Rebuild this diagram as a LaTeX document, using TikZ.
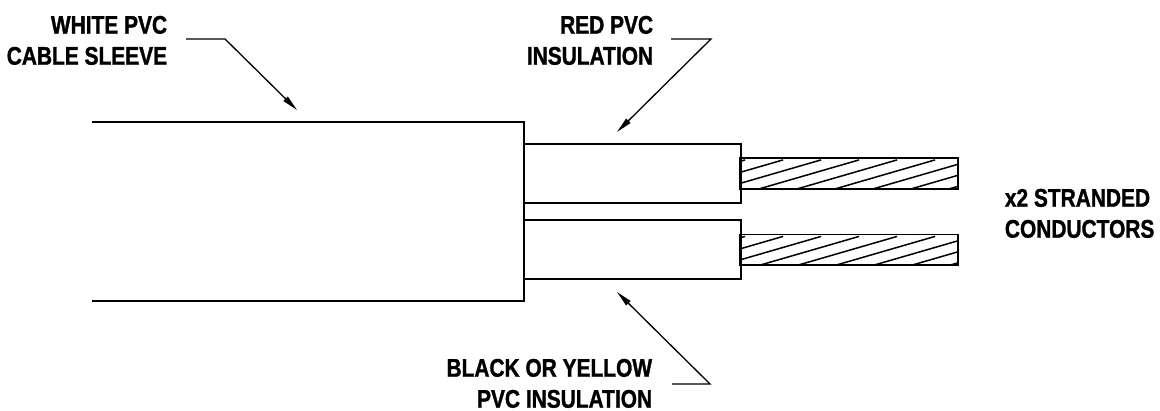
\documentclass[tikz,border=0pt]{standalone}
\usepackage{fontspec}
\setmainfont{Liberation Sans}[FakeStretch=0.82,FakeBold=1.2]
\usepackage{tikz}
\usetikzlibrary{arrows.meta,calc}

\begin{document}
\begin{tikzpicture}[x=1pt,y=-1pt,line width=1.8pt,
	label/.style={inner sep=0pt,font=\bfseries\fontsize{25.5}{31}\selectfont},
	leader/.style={line width=1.3pt,-{Triangle[length=16pt,width=6pt]}},
	insul/.style={draw,rectangle,minimum width=217pt,minimum height=59pt,inner sep=0pt},
	cond/.style={rectangle,minimum width=216pt,minimum height=29pt,inner sep=0pt},
	strand/.style={line width=1.5pt}]
	 \useasboundingbox (0,0) rectangle (1160,411);

	 % sleeve, open at the left
	 \draw (92,122) -- (524,122) -- (524,301) -- (92,301);

	 \node at (632.5,173.5) [insul] (ins1) {};
	 \node at (632.5,249.5) [insul] (ins2) {};
	 \node at (849,173.5) [cond] (cond1) {};
	 \node at (849,250) [cond] (cond2) {};

	 % strands, then the outline on top
	 \foreach \c in {cond1,cond2} {
	 	\begin{scope}
	 	\clip (\c.south west) rectangle (\c.north east);
	 	\foreach \k in {-3,...,6}
	 		\draw[strand] ($(\c.south west)+(19+\k*38,0)$) -- ++(100,-29);
	 	\end{scope}
	 	\draw (\c.south west) rectangle (\c.north east);
	 }

	 \node at (168,15) [label,anchor=north east,align=right] (sleeve) {WHITE PVC\\CABLE SLEEVE};
	 \node at (654,15) [label,anchor=north east,align=right] (red) {RED PVC\\INSULATION};
	 \node at (653,358) [label,anchor=north east,align=right] (black) {BLACK OR YELLOW\\PVC INSULATION};
	 \node at (1004,188) [label,anchor=north west,align=left] (strands) {x2 STRANDED\\CONDUCTORS};

	 \coordinate (sleeve-a) at (186,39);
	 \coordinate (sleeve-b) at (225,39);
	 \coordinate (sleeve-tip) at (297,110);
	 \coordinate (red-a) at (671,39);
	 \coordinate (red-b) at (711,39);
	 \coordinate (red-tip) at (617,132);
	 \coordinate (black-a) at (672,384);
	 \coordinate (black-b) at (710,384);
	 \coordinate (black-tip) at (617,292);

	 \draw[leader] (sleeve-a) -- (sleeve-b) -- (sleeve-tip);
	 \draw[leader] (red-a) -- (red-b) -- (red-tip);
	 \draw[leader] (black-a) -- (black-b) -- (black-tip);

\end{tikzpicture}
\end{document}
